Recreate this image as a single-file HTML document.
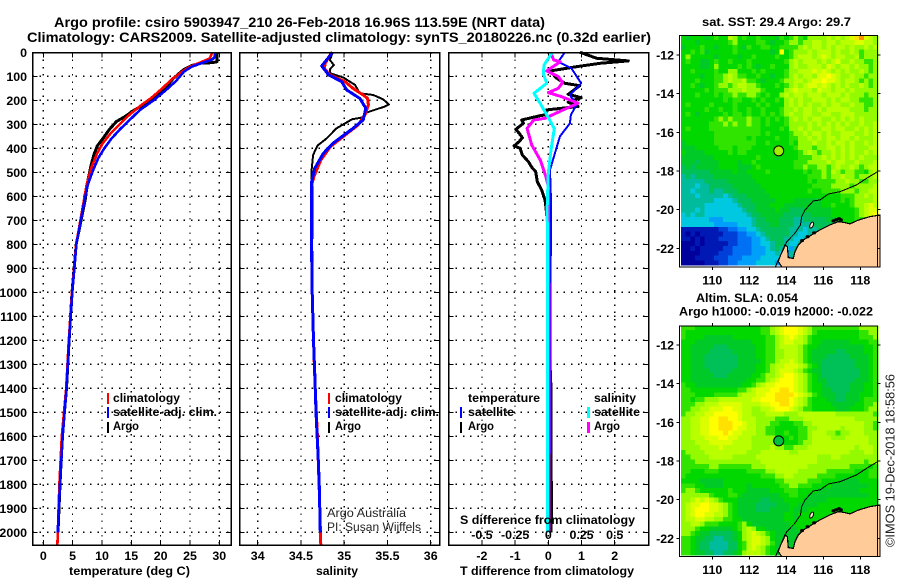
<!DOCTYPE html>
<html lang="en">
<head>
<meta charset="utf-8">
<title>Argo profile 5903947_210</title>
<style>
html,body{margin:0;padding:0;background:#fff;width:900px;height:580px;overflow:hidden}
svg{display:block}
text{font-family:"Liberation Sans",sans-serif;fill:#000}
.b{font-weight:bold;font-size:12.4px}
.t{font-weight:bold;font-size:13.4px}
.r{font-size:12.4px;fill:#222}
</style>
</head>
<body>
<svg id="chart" xmlns="http://www.w3.org/2000/svg" width="900" height="580" viewBox="0 0 900 580">
  <rect width="900" height="580" fill="#fff"/>
  <g id="maps"></g>
  <g id="panels"></g>

  <text class="t" x="54" y="27" textLength="491" lengthAdjust="spacingAndGlyphs">Argo profile: csiro 5903947_210 26-Feb-2018 16.96S 113.59E (NRT data)</text>
  <text class="t" x="27" y="42" textLength="624" lengthAdjust="spacingAndGlyphs">Climatology: CARS2009. Satellite-adjusted climatology: synTS_20180226.nc (0.32d earlier)</text>

  <text class="b" x="69" y="575" textLength="121" lengthAdjust="spacingAndGlyphs">temperature (deg C)</text>
  <text class="b" x="316" y="575" textLength="42" lengthAdjust="spacingAndGlyphs">salinity</text>
  <text class="b" x="460" y="575" textLength="174" lengthAdjust="spacingAndGlyphs">T difference from climatology</text>
  <text class="b" x="460" y="524" textLength="175" lengthAdjust="spacingAndGlyphs">S difference from climatology</text>

  <g>
    <rect x="107" y="393" width="2" height="11" fill="#ff0000"/>
    <text class="b" x="113" y="402" textLength="67" lengthAdjust="spacingAndGlyphs">climatology</text>
    <rect x="107" y="407" width="2" height="11" fill="#0000ff"/>
    <text class="b" x="113" y="416" textLength="104" lengthAdjust="spacingAndGlyphs">satellite-adj. clim.</text>
    <rect x="107" y="422" width="2" height="11" fill="#000"/>
    <text class="b" x="113" y="430" textLength="26" lengthAdjust="spacingAndGlyphs">Argo</text>
  </g>
  <g>
    <rect x="328" y="393" width="2" height="11" fill="#ff0000"/>
    <text class="b" x="335" y="402" textLength="67" lengthAdjust="spacingAndGlyphs">climatology</text>
    <rect x="328" y="407" width="2" height="11" fill="#0000ff"/>
    <text class="b" x="335" y="416" textLength="104" lengthAdjust="spacingAndGlyphs">satellite-adj. clim.</text>
    <rect x="328" y="422" width="2" height="11" fill="#000"/>
    <text class="b" x="335" y="430" textLength="26" lengthAdjust="spacingAndGlyphs">Argo</text>
  </g>
  <g>
    <text class="b" x="468" y="402" textLength="72" lengthAdjust="spacingAndGlyphs">temperature</text>
    <rect x="460" y="407" width="2" height="11" fill="#0000ff"/>
    <text class="b" x="468" y="416" textLength="46" lengthAdjust="spacingAndGlyphs">satellite</text>
    <rect x="460" y="422" width="2" height="11" fill="#000"/>
    <text class="b" x="468" y="430" textLength="26" lengthAdjust="spacingAndGlyphs">Argo</text>
    <text class="b" x="594" y="402" textLength="42" lengthAdjust="spacingAndGlyphs">salinity</text>
    <rect x="587" y="407" width="3" height="11" fill="#00ffff"/>
    <text class="b" x="594" y="416" textLength="46" lengthAdjust="spacingAndGlyphs">satellite</text>
    <rect x="587" y="422" width="3" height="11" fill="#ff00ff"/>
    <text class="b" x="594" y="430" textLength="26" lengthAdjust="spacingAndGlyphs">Argo</text>
  </g>

  <text class="r" x="327" y="517" textLength="79" lengthAdjust="spacingAndGlyphs">Argo Australia</text>
  <text class="r" x="327" y="531" textLength="94" lengthAdjust="spacingAndGlyphs">PI: Susan Wijffels</text>

  <text class="b" x="702" y="26" textLength="149" lengthAdjust="spacingAndGlyphs">sat. SST: 29.4 Argo: 29.7</text>
  <text class="b" x="696" y="302" textLength="102" lengthAdjust="spacingAndGlyphs">Altim. SLA: 0.054</text>
  <text class="b" x="679" y="315.5" textLength="194" lengthAdjust="spacingAndGlyphs">Argo h1000: -0.019 h2000: -0.022</text>
  <text class="r" transform="translate(894.5,547) rotate(-90)" x="0" y="0" textLength="173" lengthAdjust="spacingAndGlyphs" style="font-size:13px">©IMOS 19-Dec-2018 18:58:56</text>
</svg>

<script>
/* ---------- profile data ---------- */
const depthTicks = [0,100,200,300,400,500,600,700,800,900,1000,1100,1200,1300,1400,1500,1600,1700,1800,1900,2000];
const tempTicks = [0,5,10,15,20,25,30];
const salTicks = [34,34.5,35,35.5,36];
const salTickLabels = ['34','34.5','35','35.5','36'];
const tDiffTicks = [-2,-1,0,1,2];
const sDiffTicks = [-0.5,-0.25,0,0.25,0.5];
const sDiffLabels = ['-0.5','-0.25','0','0.25','0.5'];

const argoTempDepth = [3,39,43,46,55,73,108,157,191,219,244,268,288,320,358,390,428,476,546,608,800,1000,1200,1400,1600,1800,2000];
const argoTemp = [29.6,29.6,28.9,26.7,25.3,23.9,22.2,20.5,18.8,17,15.3,13.9,12.5,11.3,10.2,9.2,8.6,8.1,7.5,7.2,5.6,4.9,4.4,3.95,3.24,2.85,2.5];
const climTempDepth = [0,25,40,60,75,110,150,190,220,260,300,340,380,420,480,550,620,800,1000,1200,1400,1600,1800,2053];
const climTemp = [28.8,28.4,27,25,24,22,20.3,18.4,16.7,14.7,13,11.4,10.1,9.2,8.2,7.4,6.9,5.6,4.9,4.35,3.9,3.15,2.75,2.4];
const satTempDepth = [0,20,30,45,60,80,120,160,200,240,280,320,360,400,440,490,550,620,800,1000,1200,1400,1600,1800,2000];
const satTemp = [29.3,29.2,28.8,27,25.3,24,22.6,20.8,18.8,16.5,14.8,13.1,11.6,10.4,9.4,8.5,7.6,7,5.65,4.95,4.4,3.95,3.3,2.85,2.45];

const argoSalDepth = [0,32,53,71,87,105,136,171,178,196,217,226,251,271,279,317,358,389,428,504,574,657,800,1000,1200,1400,1600,1800,2000];
const argoSal = [34.867,34.835,34.88,34.835,34.835,34.99,35.125,35.18,35.336,35.45,35.518,35.47,35.26,35.22,35.09,34.91,34.8,34.69,34.64,34.62,34.635,34.635,34.63,34.635,34.65,34.665,34.69,34.715,34.725];
const climSalDepth = [0,46,67,94,122,150,178,192,219,261,303,351,393,449,518,560,740,1000,1200,1400,1600,1800,2053];
const climSal = [34.855,34.78,34.77,34.835,35.01,35.1,35.22,35.27,35.28,35.24,35.16,34.99,34.84,34.73,34.65,34.62,34.62,34.63,34.645,34.665,34.69,34.71,34.73];
const satSalDepth = [0,57,94,122,157,192,233,282,317,379,421,483,546,740,1000,1200,1365,1500,1700,1810,2000];
const satSal = [34.867,34.74,34.82,34.97,35.03,35.18,35.25,35.22,35.1,34.87,34.76,34.66,34.62,34.62,34.63,34.645,34.662,34.674,34.7,34.712,34.724];

const argoTDiffDepth = [0,25,36,46,60,70,78,108,129,139,175,189,208,226,240,261,264,282,296,321,337,356,372,390,400,428,456,483,497,539,574,615,647,750,900,1300,1400,1500,1700,1900,2000];
const argoTDiff = [0.955,1.46,2.41,1.56,0.85,0.4,0.05,0.25,0.5,0.95,0.6,0.99,0.6,0.9,-0.05,-0.1,-0.25,-0.8,-0.75,-0.98,-0.88,-0.78,-0.88,-1.03,-0.85,-0.78,-0.6,-0.48,-0.38,-0.33,-0.2,-0.1,-0.07,0,0.03,0.05,0.08,0.08,0.08,0.1,0.08];
const satTDiffDepth = [0,39,67,129,178,219,261,296,351,421,490,615,1000,1500,2000];
const satTDiff = [0.5,0.3,0.7,0.99,0.65,0.85,0.68,0.65,0.35,0.2,0.05,0.08,0.07,0.05,0.03];
const argoSDiffDepth = [0,32,39,78,101,126,150,168,185,212,243,275,282,317,386,449,518,560,1000,2000];
const argoSDiff = [0.02,0.04,0.09,-0.012,0.075,0.108,0.075,0,0.1,0.225,0.1,-0.025,-0.11,-0.16,-0.125,-0.06,-0.018,0,0.004,0.004];
const satSDiffDepth = [0,53,87,129,171,212,261,317,407,504,643,1000,2000];
const satSDiff = [0.03,-0.032,-0.038,-0.012,-0.108,-0.062,-0.012,0.045,0.02,0,-0.008,-0.006,-0.005];

/* ---------- map data: palette index per grid cell ---------- */
const palette = {'0':'#00009c','1':'#0018b4','2':'#0040d8','3':'#0070f4','4':'#00a0fa','5':'#00c8e0','6':'#00bc9c','7':'#00c058','8':'#00ca28','9':'#00d800','a':'#30e400','b':'#94fa00','c':'#b8ff00','d':'#dcff00','e':'#ffff00','f':'#ffe000','g':'#ff9000'};
const sstRows = [
"9899989a99 cb9a99a999 8a9aba9bbb bcbcbcdfgdcb",
"9998999999 ab9999aa98 99abbabbcc bccbcccddccb",
"8999a99899 9a98a99aa9 9aaaabcbcc bcbccbcbbcbc",
"99a9a89999 9a99999998 9e9abbbcbc ccbcbbcbabbb",
"9b99999899 99899a9999 a99abcccbc dcbccbbcabbb",
"9a99889a99 a999a99999 99abcbcccb cbcdbbcbbaab",
"9999889b99 99a9a9899a 999bcbbccc bdcbccbcbbab",
"99a9999a99 bb999a9a99 99abbcccdc dcbcbcbbcbab",
"9999899aab cbaa99a998 99abcbccbd dedcbbcbbabb",
"999a999aab cbbcaa9899 9abbccbcdd eddcbccbabab",
"99a9899abb abccbba999 a9abcbcddc dcbcbcbbcbab",
"99999a9aaa bbbcbbba99 99bcdcccbd ccbccbcbbbbb",
"999a999a9a abaabba9a9 9bcbccbccc bcccbcbbbabb",
"999999999a 9aa99a9a99 a9bcbcbbcc cbcbccbbaaab",
"9a9999a999 9a9999a9a9 99bcbcbcbb cbccbbcbbaab",
"99999a99a9 9a99a99a99 9abbcbccbc bcccccbbbabb",
"9a9899999a 9aa9a99a9a 9abcbbccbb ccbbcccbbbbb",
"9999999aba baaabaa9a9 a9abcbcbcc bbcbcbcbcbbb",
"999999aaab abaabaa9a9 99abbbbcbc bcbcbcbbcbbc",
"9a9999aaaa aaaaaaa999 9a9bbcbcbb ccbccbbcbcbc",
"9999999aaa aaaaaaa9a9 999abbcbcc bcbbcccbbcbc",
"9999999aaa aaaa9a9999 a99aabbcbc bccbccbcbbbc",
"8999999aaa aaaaaa99a9 999a9bbbcb bcbccbcbbcbc",
"88899999aa a9aaa99999 9999abbbab bccbcbcbbbcc",
"9888899999 a9aa999999 99999abcba bbcbcbcbbcbc",
"8888888999 999999a999 89999aaabb cbcbcbcbcbbb",
"8887888899 99899a9999 9999aaabbb bcbccbbcbbbc",
"7878888899 998889a999 9999aabaab babcbbcbabcc",
"7777778888 89889999a9 999999a9aa bacbabbaa9bc",
"6767777888 8888899999 9999999aaa babbcbbabbbc",
"6666677777 8888889999 9999999a9a aaabbcbbaabb",
"6665667777 7888888999 99999999aa aabbbbabbbbc",
"6656667667 7788888899 9999999a99 aaaabbbabbcc",
"6665666665 6777888889 9999999999 9999aaabbcbc",
"6666666555 5677788888 9999888888 9999a9abbbbc",
"6666655555 5567778889 9988888888 99a999abbcdc",
"6665655555 5556778888 9887778888 8899999abcdd",
"5656655555 5555677888 8877777788 8899999abcde",
"5555554445 5555567788 8777667777 7889999aabdd",
"5555555444 4455567778 8777666677 7777899999ae",
"1111111122 3344556777 7776665667 7789989aaaaa",
"1010111112 2233445677 7776655667 788999999999",
"1101011122 2233344567 7766556677 788888888888",
"0001011111 2233344556 7765566778 888888888888",
"0010111112 2333344456 7654667888 888888888888",
"0000111122 2333344455 6546677888 888888888888",
"0001111222 3334444555 5446777888 888888888888",
"0000011122 3344445555 4346888888 888888888888"
];
const slaRows = [
"aaa9999999 9999999aab cdeeedcbaa aaaaaaaabbbb",
"a999999999 9999999aab cdeeedcba9 99999999aabb",
"a999988888 89999999aa bcdedcba99 99999999aaab",
"9998888888 88888999aa bcddccba99 8888889999aa",
"9988888777 88888899aa bccccba998 88888888899a",
"9988887777 78888899aa bbcccba988 88877888899a",
"9988877777 77888899aa bbcccba988 87777788889a",
"9988877777 77888889aa bccdcba988 77777778889a",
"9988877777 77888899ab ccdddcba98 77777778889a",
"9988887777 78888899ab cdddcba988 77777777889a",
"9988888777 8888899abb cdeedcba98 77777777889a",
"9988888888 888899aabc deeedcba98 87777778889a",
"a998888888 88899abcdd eeeedcba99 87777788899a",
"aa99999999 99aabcddde effedcba99 88777788899a",
"aaa9999aaa aabcccddee ffffedcba9 88877888999a",
"aa9aabbbcc cccccddeee fffedcba99 988778889aaa",
"aaabbcccdd dddccccdde effedcba99 998888899aab",
"aabbccddde eddccbbccd eeedcbaa99 999888999abb",
"abbccddeee eedccbbbcc ccbbbccccc cccbbbbbbbba",
"bbccddeeff eedcccbbbb aaabbbcccc cccccccbbbbb",
"bbccddeeff feedccbbba a999aabbcc cccccccccbba",
"bbccddeeff feddccbbaa 99999aabbc ccccbccccbba",
"bbccddeeef eddcccbbaa 99a99aabcc cbbabbcccbbb",
"bbcccdddee ddcccbbbbb a99a9aabcc ccbbbcccccbb",
"bbbcccdddd dccccbbbbb b9999abbcc ccccccccccbb",
"bbbbccccdc cccccbbbbc bbaabbbccc cccccccbcccb",
"abbbbccccc ccccbbbccc cccbbccccc ccccccbbbccb",
"aabbbbcccc cbbbbbcccc cccccccccb bbccbbbbbbbb",
"aaabbbbbbb bbbbbbbccc cccccccccb bbbbbbbbbabb",
"aaaaaabbaa aaaaabbbcc cccccccbbb bbbbbbaaaa9a",
"aa999aaa99 9999aaaabb cccccbbbbb baaaaaa999aa",
"a999999999 9999999aaa bbccbbbbba aaa9999999aa",
"9999888889 9999999999 aabbbbbaaa 999988889999",
"aaa9988889 9999899999 9aabbaaa99 998888888899",
"abba999999 a999888889 99aaa99998 888888889999",
"bbbbbba999 aa98888888 899aa99888 888888888899",
"bbcdcdcba9 9988888778 8899998888 899999999999",
"bcddeeddcb a988887777 8889988889 999999999999",
"bcdeeeddcb a988887778 8889888999 99999999999a",
"bcdeeddccb a988888888 8899899999 9999999999aa",
"bccddccbba a998888888 8899899999 99999aaaaaaa",
"bbccbaaa99 99ab988888 8889999999 9999aaaaaaaa",
"bbba998888 89abcb9988 8888899999 99999999aaaa",
"bba9887777 789bcdcba9 8888889999 999999999999",
"aa98877667 789bcddcb9 8888899999 999999999999",
"aa98776666 779acddcba 8888899999 999999999999",
"aa98776666 779acdcba9 8888999999 999999999999",
"aa98877667 789bcccba9 8888899999 999999999999"
];
const lonTicks = [110,112,114,116,118];
const latTicks = [-12,-14,-16,-18,-20,-22];
const coastLon = [119.06,118.52,117.89,117.44,117.17,116.81,116.36,115.82,115.28,114.92,114.65,114.47,114.38,114.11,114.06,113.93,113.66,113.57,113.75,113.75,119.06];
const coastLat = [-20.28,-20.36,-20.54,-20.74,-20.67,-20.62,-20.79,-21.05,-21.36,-21.57,-21.83,-22.17,-22.52,-22.48,-21.92,-21.83,-22.43,-22.69,-22.95,-23.1,-23.1];
const isobathLon = [118.94,118.34,117.8,116.9,116.27,115.82,115.46,115.01,114.83,114.77,114.47,114.02,113.84,113.57,113.42];
const isobathLat = [-18.03,-18.38,-18.72,-19.07,-19.19,-19.5,-19.55,-20.02,-20.36,-20.79,-21.22,-21.66,-22.09,-22.6,-22.95];
const islandLon = [116.55,116.7,116.85,116.95,115.5,115.15,114.85];
const islandLat = [-20.58,-20.52,-20.47,-20.53,-21.2,-21.4,-21.6];
const floatLon = 113.59;
const floatLat = -16.96;

/* ---------- axis functions ---------- */
const xTemp = t => 43.3 + t * 5.867;
const xSal = s => 257.7 + (s - 34) * 86.5;
const xTDiff = t => 548.3 + t * 33.2;
const xSDiff = s => 548.3 + s * 132.8;
const yDepth = d => 52.3 + d * 0.24;
const xLon = lon => 712.3 + (lon - 110) * 18.5;
const ySst = lat => 55 + (-12 - lat) * 19.33;
const ySla = lat => 345 + (-12 - lat) * 19.33;

const NS = 'http://www.w3.org/2000/svg';
const panelsG = document.getElementById('panels');
const mapsG = document.getElementById('maps');

function mk(tag, parent, name, props) {
  const el = document.createElementNS(NS, tag);
  
  
  for (const k in props) el.setAttribute(k, props[k]);
  parent.appendChild(el);
  return el;
}
function label(parent, name, x, y, anchor, str) {
  const el = mk('text', parent, name, {x: x, y: y, 'text-anchor': anchor, 'class': 'b'});
  el.textContent = str;
}
function series(parent, name, depths, values, xf, color, width) {
  const pts = values.map((v, i) => xf(v).toFixed(1) + ',' + yDepth(depths[i]).toFixed(1)).join(' ');
  mk('polyline', parent, name, {points: pts, fill: 'none', stroke: color, 'stroke-width': width, 'stroke-linejoin': 'round', 'shape-rendering': 'crispEdges'});
}

/* ---------- profile panels ---------- */
const TOP = 52.5, BOTTOM = 545;
function panel(name, left, right, xTickPositions) {
  const g = mk('g', panelsG, name, {});
  xTickPositions.forEach(px => {
    mk('line', g, 'vertical-gridline', {x1: px, x2: px, y1: TOP, y2: BOTTOM, stroke: '#000', 'stroke-width': 1.2, 'stroke-dasharray': '1.5 5.7', 'shape-rendering': 'crispEdges'});
    mk('line', g, 'x-tick', {x1: px, x2: px, y1: BOTTOM, y2: BOTTOM - 5, stroke: '#000', 'stroke-width': 1, 'shape-rendering': 'crispEdges'});
    mk('line', g, 'x-tick-top', {x1: px, x2: px, y1: TOP, y2: TOP + 5, stroke: '#000', 'stroke-width': 1, 'shape-rendering': 'crispEdges'});
  });
  depthTicks.forEach(d => {
    if (d === 0) return;
    const py = yDepth(d);
    mk('line', g, 'horizontal-gridline', {x1: left, x2: right, y1: py, y2: py, stroke: '#000', 'stroke-width': 1.2, 'stroke-dasharray': '1.5 5.7', 'shape-rendering': 'crispEdges'});
    mk('line', g, 'y-tick', {x1: left, x2: left + 5, y1: py, y2: py, stroke: '#000', 'stroke-width': 1, 'shape-rendering': 'crispEdges'});
    mk('line', g, 'y-tick-right', {x1: right - 5, x2: right, y1: py, y2: py, stroke: '#000', 'stroke-width': 1, 'shape-rendering': 'crispEdges'});
  });
  return g;
}
function frame(g, left, right) {
  mk('rect', g, 'panel-frame', {x: left, y: TOP, width: right - left, height: BOTTOM - TOP, fill: 'none', stroke: '#000', 'stroke-width': 1.5, 'shape-rendering': 'crispEdges'});
}

const p1 = panel('temperature-panel', 32.5, 231, tempTicks.map(xTemp));
series(p1, 'argo-temperature-line', argoTempDepth, argoTemp, xTemp, '#000', 3);
series(p1, 'climatology-temperature-line', climTempDepth, climTemp, xTemp, '#ff0000', 2.6);
series(p1, 'satellite-temperature-line', satTempDepth, satTemp, xTemp, '#0000ff', 2.6);
frame(p1, 32.5, 231);
depthTicks.forEach(d => {
  label(p1, 'depth-tick-label', 27, yDepth(d) + 4.5, 'end', String(d));
});
tempTicks.forEach(t => {
  label(p1, 'temperature-tick-label', xTemp(t), 560, 'middle', String(t));
});

const p2 = panel('salinity-panel', 239.5, 439.5, salTicks.map(xSal));
series(p2, 'argo-salinity-line', argoSalDepth, argoSal, xSal, '#000', 2);
series(p2, 'climatology-salinity-line', climSalDepth, climSal, xSal, '#ff0000', 3);
series(p2, 'satellite-salinity-line', satSalDepth, satSal, xSal, '#0000ff', 3);
frame(p2, 239.5, 439.5);
salTicks.forEach((s, i) => {
  label(p2, 'salinity-tick-label', xSal(s), 560, 'middle', salTickLabels[i]);
});

const p3 = panel('difference-panel', 448.5, 648.5, tDiffTicks.map(xTDiff));
series(p3, 'argo-t-difference-line', argoTDiffDepth, argoTDiff, xTDiff, '#000', 3);
series(p3, 'satellite-t-difference-line', satTDiffDepth, satTDiff, xTDiff, '#0000ff', 2);
series(p3, 'argo-s-difference-line', argoSDiffDepth, argoSDiff, xSDiff, '#ff00ff', 3);
series(p3, 'satellite-s-difference-line', satSDiffDepth, satSDiff, xSDiff, '#00ffff', 3);
frame(p3, 448.5, 648.5);
tDiffTicks.forEach(t => {
  label(p3, 't-difference-tick-label', xTDiff(t), 560, 'middle', String(t));
});
sDiffTicks.forEach((s, i) => {
  label(p3, 's-difference-tick-label', xSDiff(s), 539, 'middle', sDiffLabels[i]);
});

/* ---------- maps ---------- */
const LON0 = 108.31, DLON = 0.2533, LAT0 = -10.98, DLAT = 0.2477;
function drawMap(name, rows, yLat, frameTop, frameBottom, floatFill, leftFrame, rightFrame) {
  const g = mk('g', mapsG, name, {});
  rows.forEach((row, r) => {
    const cells = row.replace(/ /g, '');
    for (let c = 0; c < cells.length; c++) {
      const x0 = xLon(LON0 + c * DLON), x1 = xLon(LON0 + (c + 1) * DLON);
      const y0 = yLat(LAT0 - r * DLAT), y1 = yLat(LAT0 - (r + 1) * DLAT);
      mk('rect', g, 'map-cell', {x: x0.toFixed(2), y: y0.toFixed(2), width: (x1 - x0 + 0.4).toFixed(2), height: (y1 - y0 + 0.4).toFixed(2), fill: palette[cells[c]], 'shape-rendering': 'crispEdges'});
    }
  });
  const land = coastLon.map((lon, i) => xLon(lon).toFixed(1) + ',' + Math.min(yLat(coastLat[i]), frameBottom).toFixed(1)).join(' ');
  mk('polygon', g, 'land', {points: land, fill: '#ffcc99', stroke: '#000', 'stroke-width': 1.2, 'shape-rendering': 'crispEdges'});
  const iso = isobathLon.map((lon, i) => xLon(lon).toFixed(1) + ',' + yLat(isobathLat[i]).toFixed(1)).join(' ');
  mk('polyline', g, 'shelf-isobath', {points: iso, fill: 'none', stroke: '#000', 'stroke-width': 1, 'shape-rendering': 'crispEdges'});
  islandLon.forEach((lon, i) => {
    mk('ellipse', g, 'island', {cx: xLon(lon), cy: yLat(islandLat[i]), rx: 2, ry: 1.6, fill: '#000'});
  });
  mk('ellipse', g, 'barrow-island', {cx: xLon(115.37), cy: yLat(-20.8), rx: 1.6, ry: 3.2, fill: '#ffe8c8', stroke: '#000', 'stroke-width': 1, transform: 'rotate(25 ' + xLon(115.37) + ' ' + yLat(-20.8) + ')'});
  mk('rect', g, 'map-frame', {x: leftFrame, y: frameTop, width: rightFrame - leftFrame, height: frameBottom - frameTop, fill: 'none', stroke: '#000', 'stroke-width': 1.4, 'shape-rendering': 'crispEdges'});
  mk('circle', g, 'argo-float-marker', {cx: xLon(floatLon), cy: yLat(floatLat), r: 5, fill: floatFill, stroke: '#000', 'stroke-width': 1});
  lonTicks.forEach(lon => {
    const px = xLon(lon);
    mk('line', g, 'lon-tick-top', {x1: px, x2: px, y1: frameTop - 3, y2: frameTop, stroke: '#000', 'stroke-width': 1, 'shape-rendering': 'crispEdges'});
    mk('line', g, 'lon-tick-bottom', {x1: px, x2: px, y1: frameBottom, y2: frameBottom + 3, stroke: '#000', 'stroke-width': 1, 'shape-rendering': 'crispEdges'});
    label(g, 'longitude-tick-label', px, frameBottom + 17.5, 'middle', String(lon));
  });
  latTicks.forEach(lat => {
    const py = yLat(lat);
    mk('line', g, 'lat-tick-left', {x1: leftFrame - 3, x2: leftFrame, y1: py, y2: py, stroke: '#000', 'stroke-width': 1, 'shape-rendering': 'crispEdges'});
    mk('line', g, 'lat-tick-right', {x1: rightFrame, x2: rightFrame + 3, y1: py, y2: py, stroke: '#000', 'stroke-width': 1, 'shape-rendering': 'crispEdges'});
    label(g, 'latitude-tick-label', 674, py + 4.5, 'end', String(lat));
  });
}
drawMap('sst-map', sstRows, ySst, 35.5, 267, '#a0f000', 679.5, 877.5);
drawMap('sla-map', slaRows, ySla, 326, 556.5, '#00c040', 679.5, 877.5);
</script>
</body>
</html>
